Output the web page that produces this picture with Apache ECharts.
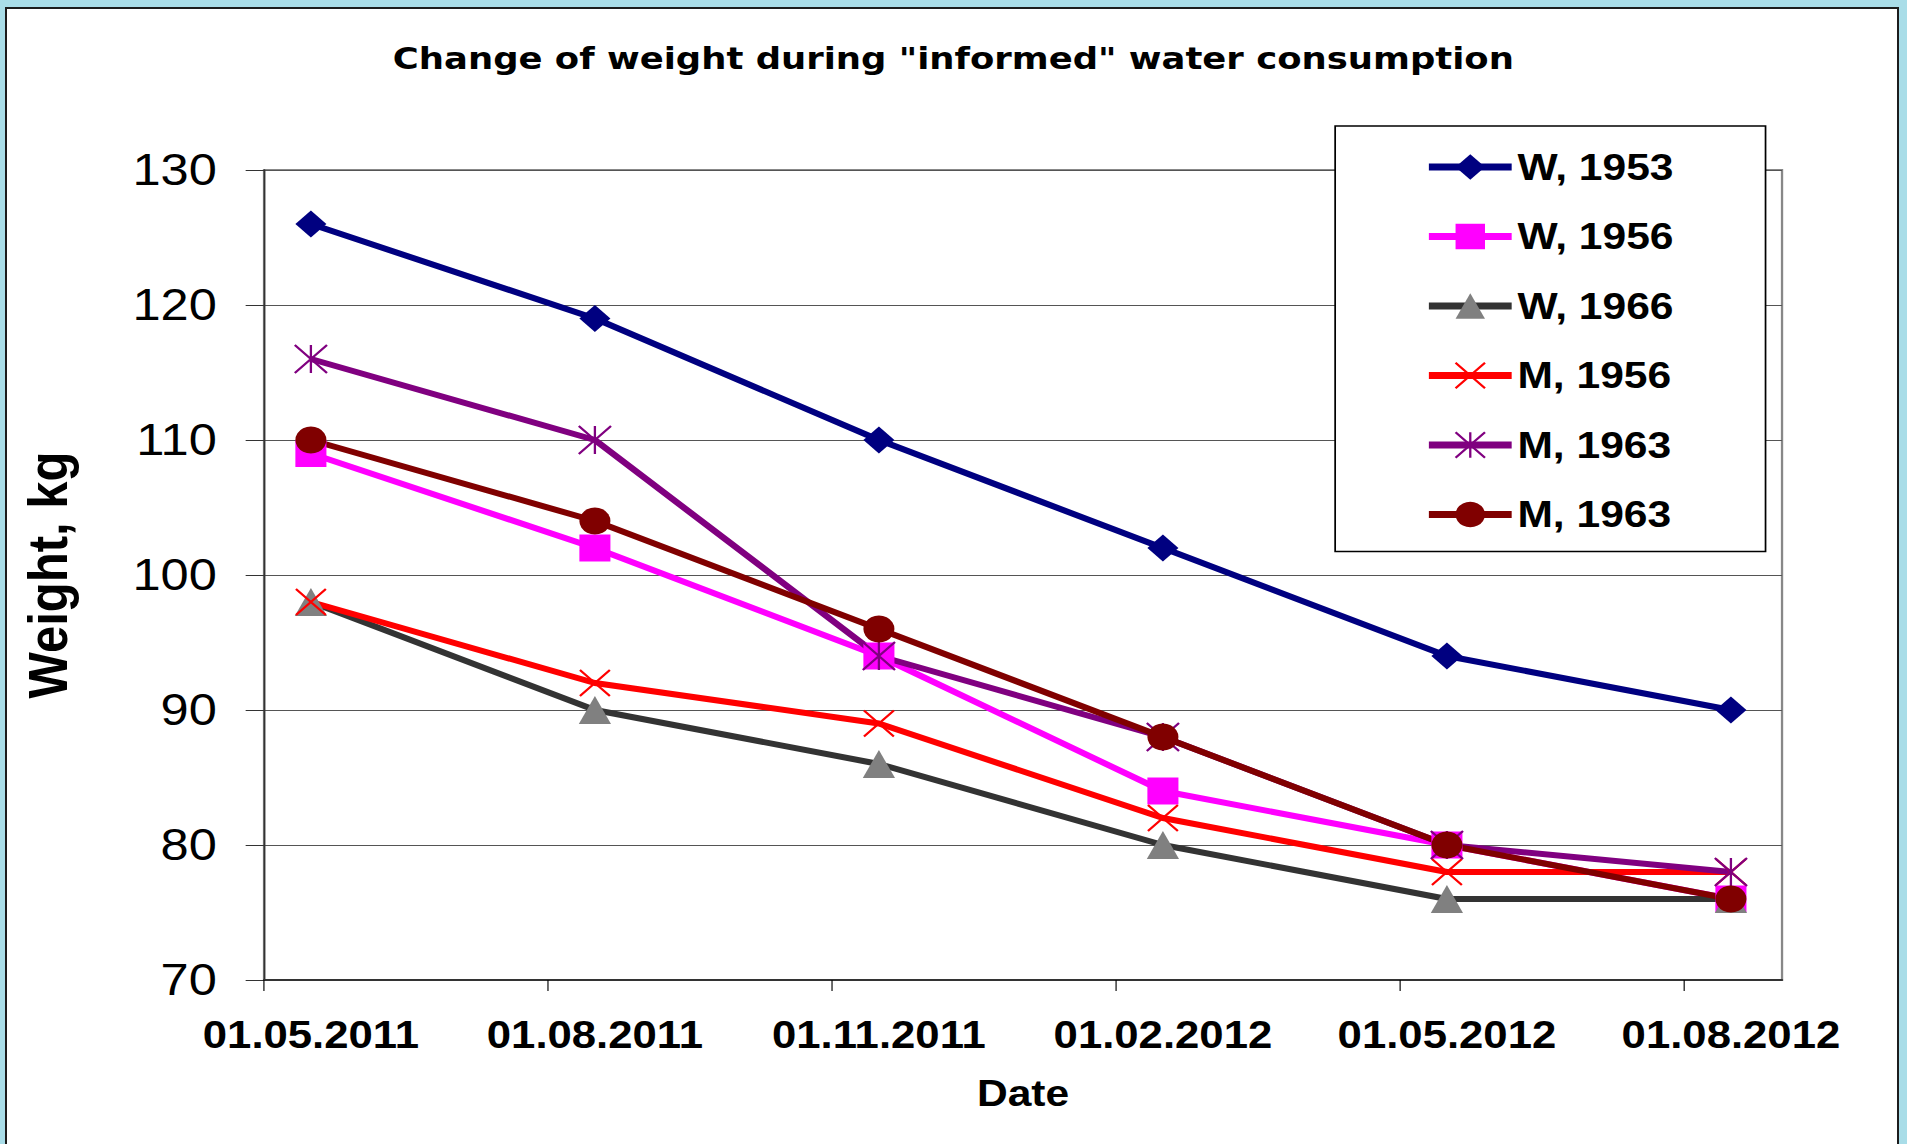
<!DOCTYPE html>
<html>
<head>
<meta charset="utf-8">
<title>Change of weight during "informed" water consumption</title>
<script src="https://cdn.jsdelivr.net/npm/echarts@6/dist/echarts.min.js"></script>
<style>
    html, body { margin: 0; padding: 0; }
    body { width: 1907px; height: 1144px; background: #a9dde8; overflow: hidden; position: relative; }
    #panel { position: absolute; left: 5px; top: 7px; width: 1890px; height: 1150px; background: #fff; border: 2px solid #1c1c1c; }
    /* the original picture is stretched sideways, so the chart is drawn narrower and scaled */
    #chart { position: absolute; left: 0; top: 0; width: 1658px; height: 1144px; transform: scaleX(1.15); transform-origin: 0 0; }
</style>
</head>
<body>
<div id="panel"></div>
<div id="chart"></div>
<script>
// x labels (measurement dates)
var dates = ['01.05.2011', '01.08.2011', '01.11.2011', '01.02.2012', '01.05.2012', '01.08.2012'];
// weight, kg
var w1953 = [126, 119, 110, 102, 94, 90];
var w1956 = [109, 102, 94, 84, 80, 76];
var w1966 = [98, 90, 86, 80, 76, 76];
var m1956 = [98, 92, 89, 82, 78, 78];
var m1963a = [116, 110, 94, 88, 80, 78];
var m1963b = [110, 104, 96, 88, 80, 76];
var yMin = 70, yMax = 130, yStep = 10;

var FONT = '"Liberation Sans", Arial, sans-serif';

function toPoints(arr) {
    var out = [];
    for (var i = 0; i < arr.length; i++) {
        out.push([i, arr[i]]);
    }
    return out;
}

/*
* one line series
*/
function makeSeries(name, arr, lineColor, symbol, size, markColor, stroke) {
    return {
        name: name,
        type: 'line',
        data: toPoints(arr),
        symbol: symbol,
        symbolSize: size,
        showAllSymbol: true,
        lineStyle: { color: lineColor, width: 6 },
        itemStyle: {
            color: markColor,
            borderColor: stroke ? markColor : 'transparent',
            borderWidth: stroke ? 2 : 0
        },
        emphasis: { disabled: true }
    };
}

var xIdx = dates.map(function (d, i) { return i; });
var tickPos = dates.map(function (d, i) { return i - 0.165; });

var crossSym = 'path://M0,0L10,10M10,0L0,10';
var starSym = 'path://M0,0L10,10M10,0L0,10M5,0L5,10';

var series = [
    makeSeries('W, 1953', w1953, '#000080', 'diamond', 27, '#000080'),
    makeSeries('W, 1956', w1956, '#ff00ff', 'rect', 27, '#ff00ff'),
    makeSeries('W, 1966', w1966, '#333333', 'triangle', 28, '#808080'),
    makeSeries('M, 1956', m1956, '#ff0000', crossSym, 26, '#ff0000', true),
    makeSeries('M, 1963', m1963a, '#800080', starSym, 28, '#800080', true),
    // same label as the one above, the space keeps the legend entries apart
    makeSeries('M, 1963 ', m1963b, '#800000', 'circle', 27, '#800000')
];

var chart = echarts.init(document.getElementById('chart'), null, { renderer: 'svg' });
var option = {
    animation: false,
    title: {
        text: 'Change of weight during "informed" water consumption',
        left: 'center',
        top: 43,
        padding: 0,
        textStyle: { fontFamily: '"DejaVu Sans", sans-serif', fontWeight: 'bold', fontSize: 30.8, color: '#000' }
    },
    grid: {
        left: 229.6, right: 108.4, top: 170, bottom: 164,
        show: true, borderColor: '#888', borderWidth: 2
    },
    legend: {
        orient: 'vertical',
        left: 1161, top: 126,
        itemWidth: 72, itemHeight: 32, itemGap: 29.5,
        padding: [21, 80, 17, 78],
        backgroundColor: '#fff', borderColor: '#000', borderWidth: 1.5,
        lineStyle: { width: 7 },
        textStyle: { fontFamily: FONT, fontWeight: 'bold', fontSize: 37, color: '#000', lineHeight: 40 },
        formatter: function (n) { return n.trim(); },
        data: series.map(function (s) { return s.name; })
    },
    xAxis: {
        type: 'value',
        min: -0.165, max: 5.18,
        axisLine: { show: true, onZero: false, lineStyle: { color: '#333', width: 2 } },
        axisTick: { show: true, length: 11, customValues: tickPos, lineStyle: { color: '#000', width: 1 } },
        axisLabel: {
            customValues: xIdx,
            formatter: function (v) { return dates[Math.round(v)]; },
            fontFamily: FONT, fontWeight: 'bold', fontSize: 38, color: '#000', margin: 36
        },
        splitLine: { show: false },
        name: 'Date', nameLocation: 'middle', nameGap: 95,
        nameTextStyle: { fontFamily: FONT, fontWeight: 'bold', fontSize: 37, color: '#000' }
    },
    yAxis: {
        type: 'value',
        min: yMin, max: yMax, interval: yStep,
        axisLine: { show: true, onZero: false, lineStyle: { color: '#333', width: 1.5 } },
        axisTick: { show: true, length: 16, lineStyle: { color: '#333', width: 1 } },
        axisLabel: { fontFamily: FONT, fontSize: 44, color: '#000', margin: 41 },
        splitLine: { show: true, lineStyle: { color: '#555', width: 1 } },
        name: 'Weight, kg', nameLocation: 'middle', nameGap: 164,
        nameTextStyle: { fontFamily: FONT, fontWeight: 'bold', fontSize: 49, color: '#000' }
    },
    series: series
};
chart.setOption(option);
</script>
</body>
</html>
